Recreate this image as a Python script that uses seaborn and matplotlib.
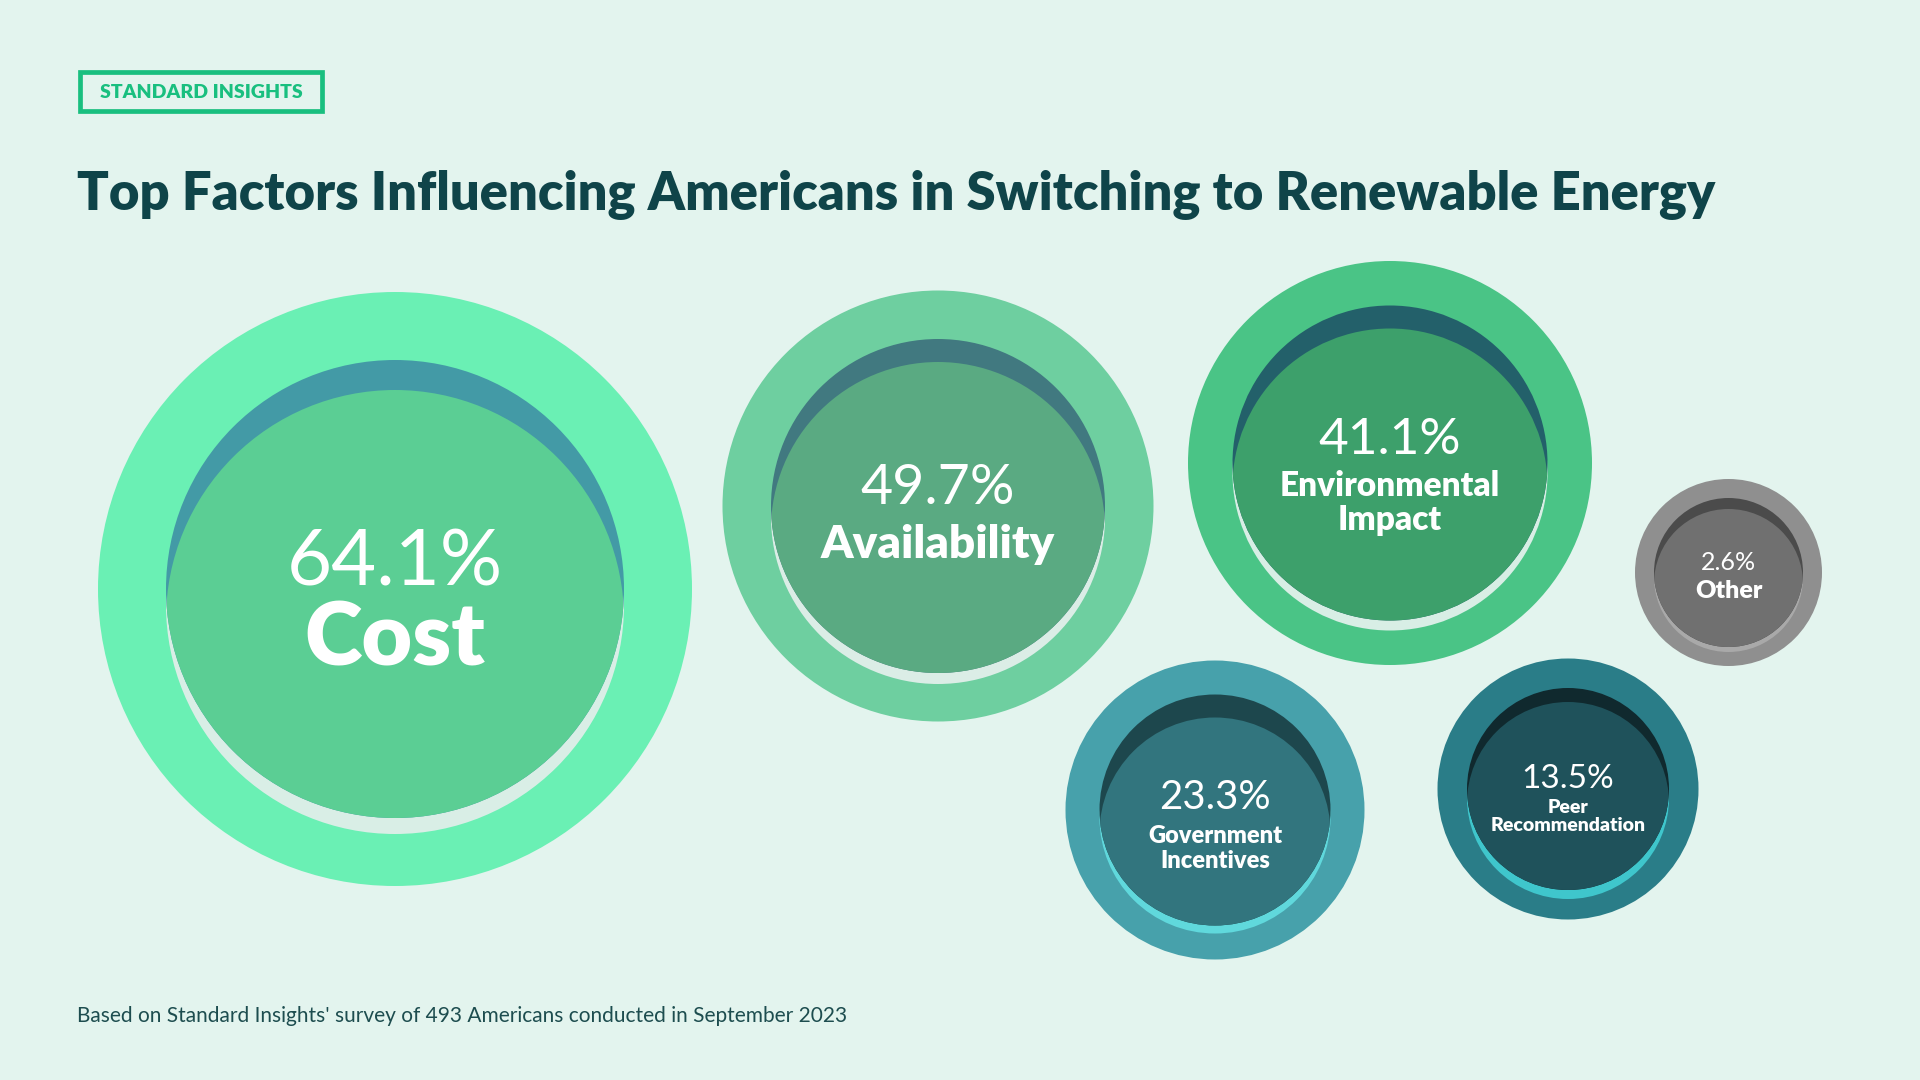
import matplotlib
matplotlib.use("Agg")
import matplotlib.pyplot as plt
from matplotlib.patches import Circle, Rectangle
import seaborn as sns

# survey results
factors = ["Cost", "Availability", "Environmental\nImpact", "Government\nIncentives",
           "Peer\nRecommendation", "Other"]
shares = [64.1, 49.7, 41.1, 23.3, 13.5, 2.6]

title = "Top Factors Influencing Americans in Switching to Renewable Energy"
badge = "STANDARD INSIGHTS"
footnote = "Based on Standard Insights' survey of 493 Americans conducted in September 2023"

# bubble layout (pixels): centre, outer radius, inner radius
bub_x = [395, 938, 1390, 1215, 1568, 1728.5]
bub_y = [589, 506, 463, 810, 789, 572.5]
bub_R = [297, 215.5, 202, 149.5, 130.5, 93.5]
bub_r = [229, 167, 157.5, 115.5, 101, 74.5]
shade_top = [30, 23, 23, 23, 14, 11]
shade_bot = [16, 11, 10, 8, 9, 5]

# text sizes / baselines
pct_size = [56, 40, 37, 29, 24, 18]
lab_size = [63, 33, 24, 17, 14, 18]
pct_base = [586, 504, 454, 809, 788, 570]
lab_base = [666, 558, 496, 843, 813, 598]
lab_gap = [0, 0, 34, 25, 18, 0]

# ring, dark shade, face, light shade
col_ring = ["#6af0b4", "#6ecfa0", "#4ac486", "#47a1ab", "#2a7d88", "#8f8f8f"]
col_dark = ["#439aa6", "#417980", "#23606a", "#1d474d", "#10292e", "#4b4b4b"]
col_face = ["#5bce94", "#5aaa82", "#3da06b", "#32757e", "#1f525b", "#707070"]
col_light = ["#d9eee6", "#dbede6", "#d8eee5", "#60d8dc", "#3fc6cc", "#a9a9a9"]

bg = "#e3f4ee"
ink = "#0f4449"

sns.set_theme(style="white")
plt.rcParams["font.family"] = ["Lato", "DejaVu Sans"]

fig = plt.figure(figsize=(19.2, 10.8), dpi=100, facecolor=bg)
ax = fig.add_axes([0, 0, 1, 1])
ax.set_facecolor(bg)
ax.set_xlim(0, 1920)
ax.set_ylim(1080, 0)
ax.axis("off")

for i in range(len(factors)):
    cx, cy, R, r = bub_x[i], bub_y[i], bub_R[i], bub_r[i]
    ax.add_patch(Circle((cx, cy), R, color=col_ring[i], lw=0))
    ax.add_patch(Circle((cx, cy + shade_bot[i]), r, color=col_light[i], lw=0))
    ax.add_patch(Circle((cx, cy), r, color=col_dark[i], lw=0))
    face = Circle((cx, cy + shade_top[i]), r, color=col_face[i], lw=0)
    ax.add_patch(face)
    face.set_clip_path(Circle((cx, cy), r, transform=ax.transData))

    ax.text(cx, pct_base[i], f"{shares[i]:.1f}%", ha="center", va="baseline",
            fontsize=pct_size[i], fontweight="normal", color="white")
    for j, line in enumerate(factors[i].split("\n")):
        ax.text(cx, lab_base[i] + j * lab_gap[i], line, ha="center", va="baseline",
                fontsize=lab_size[i], fontweight="heavy", color="white")

# badge
ax.add_patch(Rectangle((79.5, 71.5), 242, 39, fill=False, ec="#19bf7f", lw=3.4))
ax.text(201, 98, badge, ha="center", va="baseline", fontsize=14, fontweight="heavy",
        color="#19bf7f")

ax.text(77, 210, title, ha="left", va="baseline", fontsize=37.8, fontweight="heavy", color=ink)
ax.text(77, 1022, footnote, ha="left", va="baseline", fontsize=15, color="#1d4d4f")

plt.savefig("out.png", dpi=100, facecolor=bg)
